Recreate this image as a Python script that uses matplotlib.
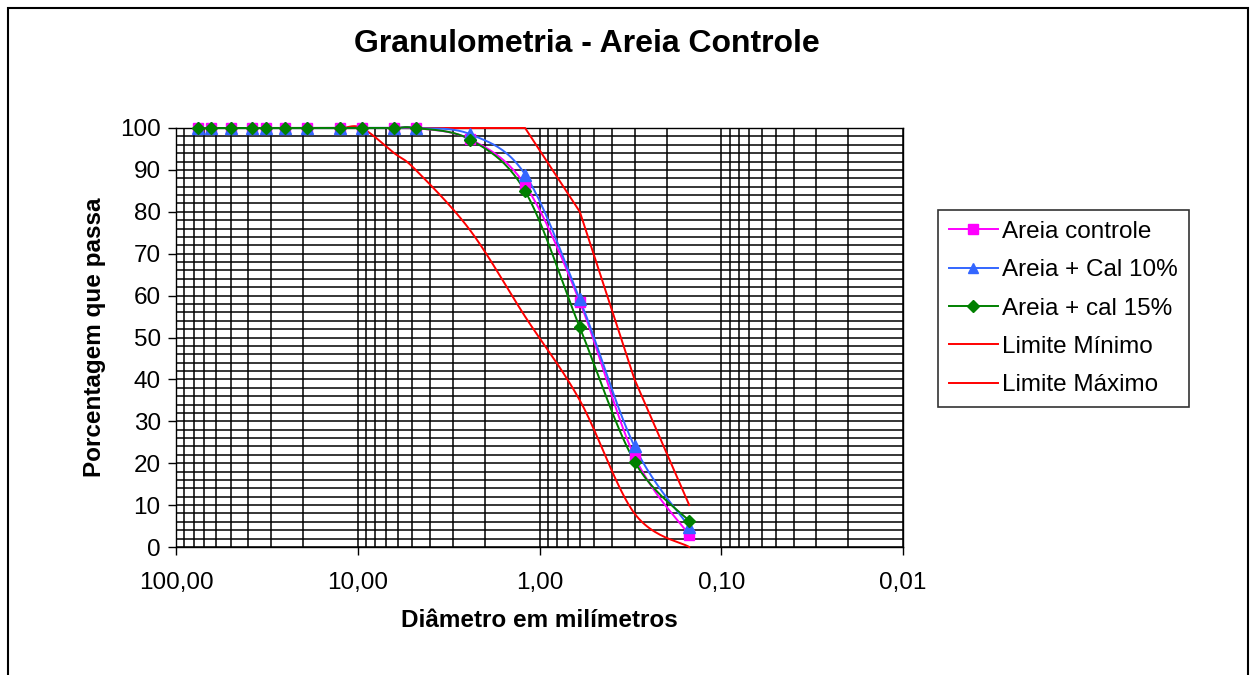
import numpy as np
import matplotlib.pyplot as plt
from matplotlib.ticker import LogLocator, MultipleLocator, FixedLocator, FixedFormatter, NullFormatter
from matplotlib.patches import Rectangle

plt.rcParams['font.family'] = ['Liberation Sans', 'DejaVu Sans']

# ============= data =============
peneiras = [76, 64, 50, 38, 32, 25, 19, 12.5, 9.5, 6.3, 4.8, 2.4, 1.2, 0.6, 0.3, 0.15]
areia_controle = [100, 100, 100, 100, 100, 100, 100, 100, 100, 100, 100, 97.3, 86.4, 58.5, 21.6, 2.9]
areia_cal10 = [100, 100, 100, 100, 100, 100, 100, 100, 100, 100, 100, 98.5, 88.9, 59.1, 24.0, 4.8]
areia_cal15 = [100, 100, 100, 100, 100, 100, 100, 100, 100, 100, 100, 97.2, 84.9, 52.4, 20.4, 6.2]
limite_min = [100, 100, 100, 100, 100, 100, 100, 100, 100, 94, 90, 75.5, 55, 35, 8, 0]
limite_max = [100, 100, 100, 100, 100, 100, 100, 100, 100, 100, 100, 100, 100, 80, 40, 10]

x_ticks = [100, 10, 1, 0.1, 0.01]
x_labels = ['100,00', '10,00', '1,00', '0,10', '0,01']


# excel-like smoothed line (bezier through the points, in screen-ish space)
def smooth(xs, ys, k=43.4, n=25):
    u = -np.log10(np.array(xs, dtype=float)) * k
    v = np.array(ys, dtype=float)
    pts = np.column_stack([u, v])
    out = [pts[0]]
    t = np.linspace(0, 1, n)[1:, None]
    for i in range(len(pts) - 1):
        p0 = pts[i - 1] if i > 0 else pts[i]
        p1, p2 = pts[i], pts[i + 1]
        p3 = pts[i + 2] if i + 2 < len(pts) else pts[i + 1]
        c1 = p1 + (p2 - p0) / 6
        c2 = p2 - (p3 - p1) / 6
        seg = ((1 - t) ** 3) * p1 + 3 * ((1 - t) ** 2) * t * c1 + 3 * (1 - t) * t ** 2 * c2 + t ** 3 * p2
        out.extend(seg)
    out = np.array(out)
    return 10 ** (-out[:, 0] / k), out[:, 1]


# ============= plotting =============
fig = plt.figure(figsize=(12.54, 6.75), dpi=100)
ax = fig.add_axes([176 / 1254, 1 - 547 / 675, (903 - 176) / 1254, (547 - 128) / 675])

ax.set_xscale('log')
ax.set_xlim(100, 0.01)
ax.set_ylim(0, 100)

# red limits (under the markers)
xs, ys = smooth(peneiras, limite_min)
ax.plot(xs, ys, color='#FF0000', lw=1.4, zorder=3, clip_on=False)
ax.plot(peneiras, limite_max, color='#FF0000', lw=1.4, zorder=3, clip_on=False)

series = [
    (areia_controle, '#FF00FF', 's', 7),
    (areia_cal10, '#3366FF', '^', 8),
    (areia_cal15, '#008000', 'D', 6.5),
]
for vals, cor, mk, ms in series:
    xs, ys = smooth(peneiras, vals)
    ax.plot(xs, ys, color=cor, lw=1.4, zorder=4, clip_on=False)
    ax.plot(peneiras, vals, linestyle='none', marker=mk, color=cor, ms=ms, zorder=5, clip_on=False)

# legend handles
h = [
    plt.Line2D([], [], color='#FF00FF', marker='s', ms=6.5, lw=1.4),
    plt.Line2D([], [], color='#3366FF', marker='^', ms=7.5, lw=1.4),
    plt.Line2D([], [], color='#008000', marker='D', ms=6, lw=1.4),
    plt.Line2D([], [], color='#FF0000', lw=1.4),
    plt.Line2D([], [], color='#FF0000', lw=1.4),
]
labels = ['Areia controle', 'Areia + Cal 10%', 'Areia + cal 15%', 'Limite Mínimo', 'Limite Máximo']
leg = fig.legend(h, labels, loc='upper left', bbox_to_anchor=(938 / 1254, 1 - 210 / 675),
                 borderaxespad=0, fontsize=17.5, frameon=True, fancybox=False,
                 edgecolor='black', handlelength=2.0, handletextpad=0.2,
                 labelspacing=0.67, borderpad=0.45)
leg.get_frame().set_linewidth(1.2)

# grid
ax.xaxis.set_major_locator(FixedLocator(x_ticks))
ax.xaxis.set_major_formatter(FixedFormatter(x_labels))
ax.xaxis.set_minor_locator(LogLocator(base=10, subs=np.arange(2, 10), numticks=20))
ax.xaxis.set_minor_formatter(NullFormatter())
ax.yaxis.set_major_locator(MultipleLocator(10))
ax.yaxis.set_minor_locator(MultipleLocator(2))
ax.grid(True, which='both', color='black', lw=1.1)
ax.set_axisbelow(True)
ax.tick_params(which='major', direction='out', length=6, width=1, labelsize=17.5)
ax.tick_params(axis='x', pad=12)
ax.tick_params(axis='y', pad=5)
ax.tick_params(which='minor', length=0)
for s in ax.spines.values():
    s.set_linewidth(1.0)

fig.text(587 / 1254, 1 - 44 / 675, 'Granulometria - Areia Controle', fontsize=23, fontweight='bold',
         ha='center', va='center')
ax.set_xlabel('Diâmetro em milímetros', fontsize=17.5, fontweight='bold', labelpad=11)
ax.set_ylabel('Porcentagem que passa', fontsize=17.5, fontweight='bold', labelpad=10)

# outer chart border
fig.patches.append(Rectangle((8 / 1254, -0.05), 1240 / 1254, 1.05 - 8 / 675, transform=fig.transFigure,
                             fill=False, edgecolor='black', lw=1.5))

fig.savefig('out.png', dpi=100)
